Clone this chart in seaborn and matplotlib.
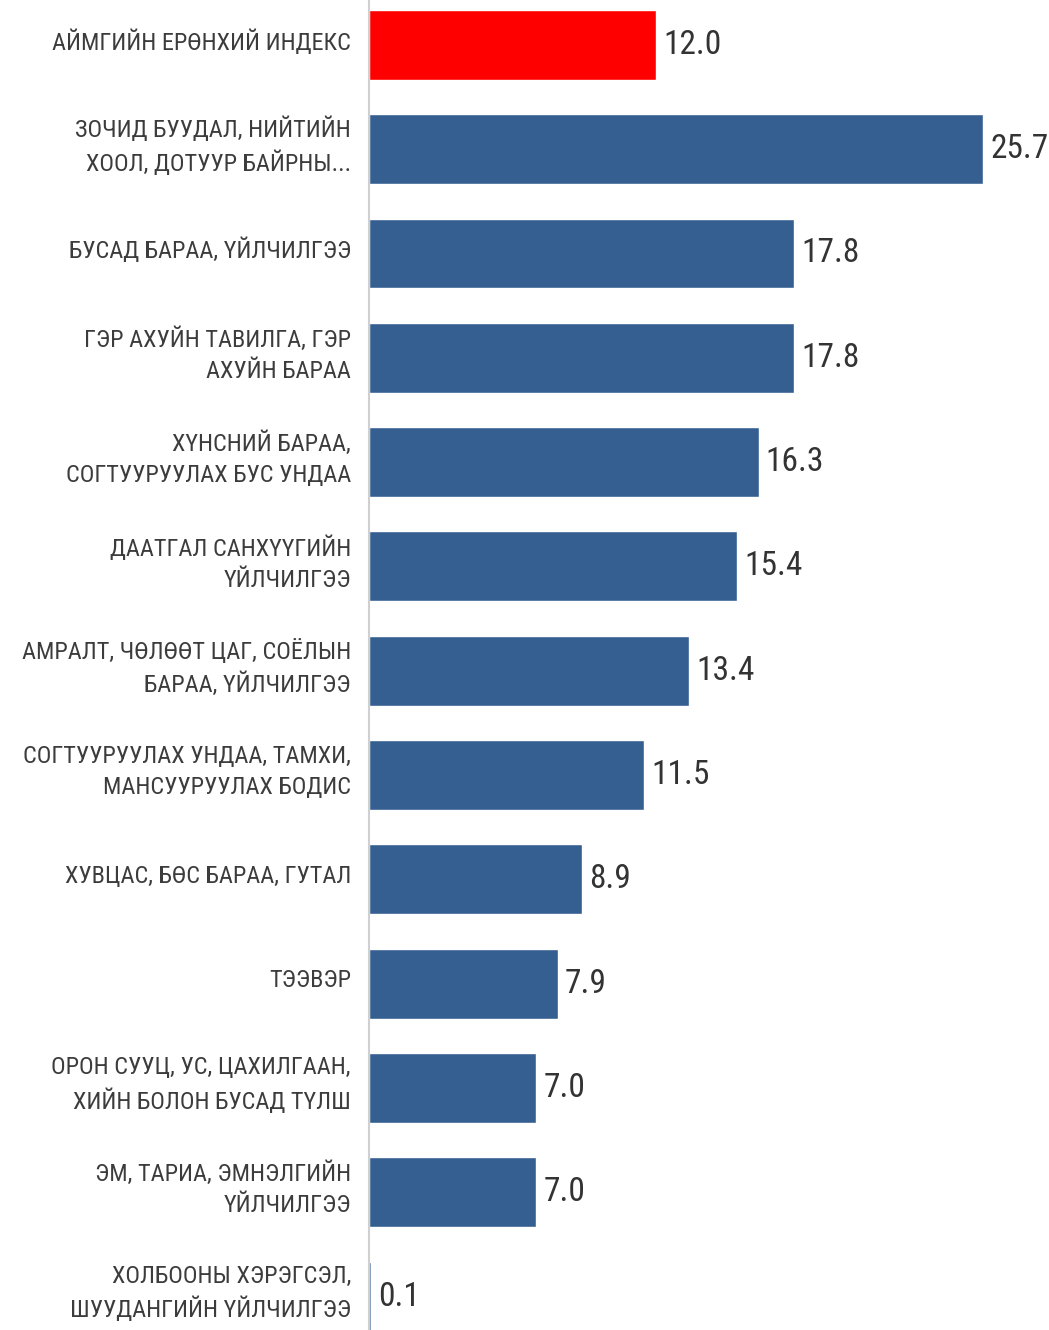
import matplotlib
matplotlib.use('Agg')
import matplotlib.pyplot as plt
import matplotlib.transforms as mtransforms
from matplotlib import font_manager as fm
import seaborn as sns
import pandas as pd

# data
categories = [
    'АЙМГИЙН ЕРӨНХИЙ ИНДЕКС',
    'ЗОЧИД БУУДАЛ, НИЙТИЙН\nХООЛ, ДОТУУР БАЙРНЫ...',
    'БУСАД БАРАА, ҮЙЛЧИЛГЭЭ',
    'ГЭР АХУЙН ТАВИЛГА, ГЭР\nАХУЙН БАРАА',
    'ХҮНСНИЙ БАРАА,\nСОГТУУРУУЛАХ БУС УНДАА',
    'ДААТГАЛ САНХҮҮГИЙН\nҮЙЛЧИЛГЭЭ',
    'АМРАЛТ, ЧӨЛӨӨТ ЦАГ, СОЁЛЫН\nБАРАА, ҮЙЛЧИЛГЭЭ',
    'СОГТУУРУУЛАХ УНДАА, ТАМХИ,\nМАНСУУРУУЛАХ БОДИС',
    'ХУВЦАС, БӨС БАРАА, ГУТАЛ',
    'ТЭЭВЭР',
    'ОРОН СУУЦ, УС, ЦАХИЛГААН,\nХИЙН БОЛОН БУСАД ТҮЛШ',
    'ЭМ, ТАРИА, ЭМНЭЛГИЙН\nҮЙЛЧИЛГЭЭ',
    'ХОЛБООНЫ ХЭРЭГСЭЛ,\nШУУДАНГИЙН ҮЙЛЧИЛГЭЭ',
]
values = [12.0, 25.7, 17.8, 17.8, 16.3, 15.4, 13.4, 11.5, 8.9, 7.9, 7.0, 7.0, 0.1]
colors = ['#ff0000'] + ['#365f91'] * (len(categories) - 1)

df = pd.DataFrame({'category': categories, 'value': values})

sns.set_theme(style='white')

# pick a narrow font if one is installed
names = {f.name for f in fm.fontManager.ttflist}
font = 'DejaVu Sans'
lab_size, val_size = 14, 20
for cand in ['Liberation Sans Narrow', 'DejaVu Sans Condensed', 'Roboto Condensed']:
    if cand in names:
        font = cand
        lab_size, val_size = 17.5, 24
        break
plt.rcParams['font.family'] = [font, 'DejaVu Sans']

fig = plt.figure(figsize=(10.49, 13.30), dpi=100)
ax = fig.add_axes([369 / 1049, 0, 680 / 1049, 1])

sns.barplot(data=df, x='value', y='category', hue='category', palette=colors,
            legend=False, width=0.67, saturation=1, ax=ax)

ax.set_xlim(0, 28.45)
ax.set_ylim(12.32, -0.43)
ax.set_xlabel('')
ax.set_ylabel('')
ax.set_xticks([])
ax.tick_params(axis='y', length=0, pad=13, labelsize=lab_size, labelcolor='#3c3c3c')
# centre the label blocks on the bars, nudged up a little like the original
shift = mtransforms.ScaledTranslation(0, 3 / 100, fig.dpi_scale_trans)
for t in ax.get_yticklabels():
    t.set_linespacing(1.45)
    t.set_va('center')
    t.set_transform(t.get_transform() + shift)

for s in ['top', 'right', 'bottom']:
    ax.spines[s].set_visible(False)
ax.spines['left'].set_color('#d0d0d0')
ax.spines['left'].set_linewidth(1.5)

for i, v in enumerate(values):
    ax.text(v + 0.3, i, f'{v:.1f}', va='center', ha='left',
            fontsize=val_size, color='#333333')

fig.savefig('out.png', dpi=100)
